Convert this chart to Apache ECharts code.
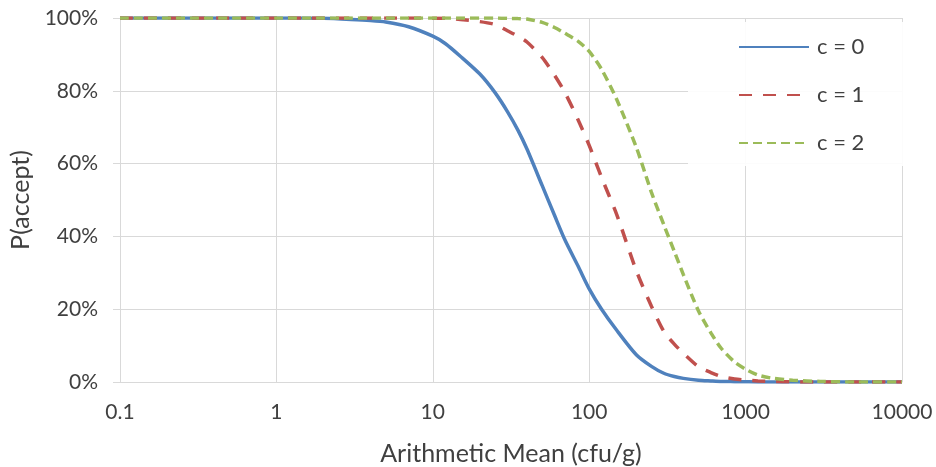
<!DOCTYPE html>
<html>
<head>
<meta charset="utf-8">
<script src="https://cdn.jsdelivr.net/npm/echarts@6/dist/echarts.min.js"></script>
<style>html,body{margin:0;padding:0;background:#fff;}#c{width:936px;height:467px;}</style>
</head>
<body>
<div id="c"></div>
<script>
const xValues = [0.1, 1, 2, 3, 4, 5, 7, 10, 12, 15, 20, 25, 30, 35, 40, 50, 60, 70, 85, 100, 120, 150, 200, 250, 300, 350, 400, 500, 600, 700, 850, 1000, 1200, 1500, 2000, 3000, 5000, 10000];
const c0 = [100, 100, 99.9, 99.6, 99.3, 98.9, 97.6, 95.0, 93.0, 89.5, 84.6, 79.5, 74.3, 69.2, 64.0, 54.0, 45.8, 39.0, 31.8, 25.6, 20.0, 14.2, 7.5, 4.3, 2.4, 1.5, 1.0, 0.5, 0.3, 0.15, 0.1, 0.05, 0, 0, 0, 0, 0, 0];
const c1 = [100, 100, 100, 100, 100, 100, 100, 99.95, 99.9, 99.6, 99.0, 98.2, 96.5, 95.0, 93.4, 89.2, 84.3, 79.5, 72.0, 65.0, 56.2, 46.0, 30.6, 20.8, 13.9, 10.4, 7.9, 4.2, 2.6, 1.5, 0.8, 0.5, 0.3, 0.15, 0.05, 0, 0, 0];
const c2 = [100, 100, 100, 100, 100, 100, 100, 100, 100, 100, 100, 100, 99.9, 99.85, 99.7, 98.8, 97.4, 95.8, 93.6, 90.8, 85.9, 77.6, 64.5, 52.1, 43.2, 35.9, 29.5, 19.5, 13.5, 9.2, 5.5, 3.5, 1.9, 1.0, 0.5, 0.15, 0, 0];
const seriesNames = ['c = 0', 'c = 1', 'c = 2'];
const xTickLabels = ['0.1', '1', '10', '100', '1000', '10000'];
const yTickLabels = ['0%', '20%', '40%', '60%', '80%', '100%'];

const FONT = 'Lato';
const TXT = '#404040';
const GRIDC = '#d9d9d9';
const pairs = arr => xValues.map((x, i) => [x, arr[i]]);

const chart = echarts.init(document.getElementById('c'));
chart.setOption({
  animation: false,
  backgroundColor: '#fff',
  grid: { left: 120, right: 34, top: 18, bottom: 85, containLabel: false, outerBoundsMode: 'none' },
  legend: {
    orient: 'vertical',
    left: 688, top: 22,
    padding: [14, 40, 12, 50],
    backgroundColor: 'rgba(255,255,255,0.92)',
    itemWidth: 70, itemHeight: 20, itemGap: 26,
    itemStyle: { opacity: 0 },
    textStyle: { fontFamily: FONT, fontSize: 22, color: TXT, padding: [0, 0, 0, 3] },
    data: seriesNames
  },
  xAxis: {
    type: 'log', logBase: 10, min: 0.1, max: 10000,
    name: 'Arithmetic Mean (cfu/g)', nameLocation: 'middle', nameGap: 59,
    nameTextStyle: { fontFamily: FONT, fontSize: 25, color: TXT },
    axisLine: { show: true, lineStyle: { color: GRIDC, width: 1 } },
    axisTick: { show: false },
    minorTick: { show: false },
    axisLabel: {
      fontFamily: FONT, fontSize: 21, color: TXT, margin: 20,
      formatter: v => { const i = Math.round(Math.log10(v)) + 1; return xTickLabels[i] !== undefined ? xTickLabels[i] : ''; }
    },
    splitLine: { show: true, lineStyle: { color: GRIDC, width: 1 } }
  },
  yAxis: {
    type: 'value', min: 0, max: 100, interval: 20,
    name: 'P(accept)', nameLocation: 'middle', nameGap: 82,
    nameTextStyle: { fontFamily: FONT, fontSize: 25, color: TXT },
    axisLine: { show: true, lineStyle: { color: GRIDC, width: 1 } },
    axisTick: { show: true, length: 7, lineStyle: { color: GRIDC } },
    axisLabel: {
      fontFamily: FONT, fontSize: 21, color: TXT, margin: 22,
      formatter: v => yTickLabels[Math.round(v / 20)]
    },
    splitLine: { show: true, lineStyle: { color: GRIDC, width: 1 } }
  },
  series: [
    { name: seriesNames[0], type: 'line', data: pairs(c0), symbol: 'none', smooth: 0.25,
      lineStyle: { color: '#4F81BD', width: 3.5, type: 'solid' }, itemStyle: { color: '#4F81BD' }, z: 3 },
    { name: seriesNames[1], type: 'line', data: pairs(c1), symbol: 'none', smooth: 0.25,
      lineStyle: { color: '#C0504D', width: 3.5, type: [13, 11] }, itemStyle: { color: '#C0504D' }, z: 4 },
    { name: seriesNames[2], type: 'line', data: pairs(c2), symbol: 'none', smooth: 0.25,
      lineStyle: { color: '#9BBB59', width: 3.5, type: [9, 5] }, itemStyle: { color: '#9BBB59' }, z: 5 }
  ]
});
</script>
</body>
</html>
